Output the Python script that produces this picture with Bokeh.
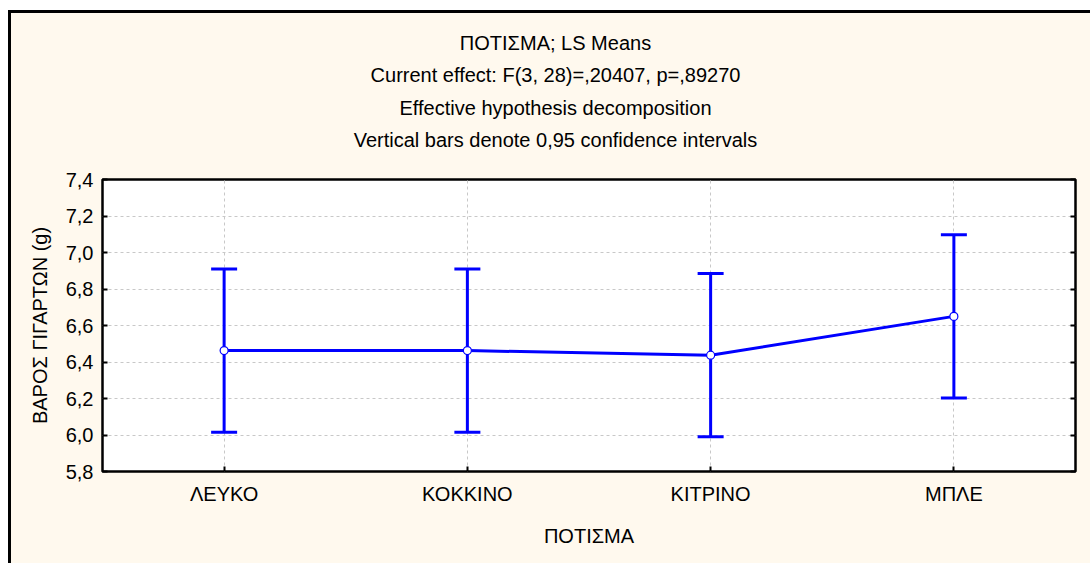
from bokeh.plotting import figure
from bokeh.layouts import column
from bokeh.models import (ColumnDataSource, Whisker, TeeHead, FixedTicker, LinearAxis,
                          Label, Range1d, FactorRange)
from bokeh.embed import file_html
from bokeh.resources import INLINE

# ---- data ----
categories = ["ΛΕΥΚΟ", "ΚΟΚΚΙΝΟ", "ΚΙΤΡΙΝΟ", "ΜΠΛΕ"]
means = [6.4625, 6.4625, 6.4375, 6.65]
lower = [6.015, 6.015, 5.99, 6.2025]
upper = [6.91, 6.91, 6.885, 7.0975]
y_ticks = [5.8, 6.0, 6.2, 6.4, 6.6, 6.8, 7.0, 7.2, 7.4]
y_tick_labels = ["5,8", "6,0", "6,2", "6,4", "6,6", "6,8", "7,0", "7,2", "7,4"]
title_lines = ["ΠΟΤΙΣΜΑ; LS Means",
               "Current effect: F(3, 28)=,20407, p=,89270",
               "Effective hypothesis decomposition",
               "Vertical bars denote 0,95 confidence intervals"]
x_title = "ΠΟΤΙΣΜΑ"
y_title = "ΒΑΡΟΣ ΓΙΓΑΡΤΩΝ (g)"

FONT = "Liberation Sans"
FS = "20px"
BLUE = "#0000ff"
CREAM = "#fff9ee"

W = 1079
FRAME_W = 973
TITLE_H = 150
Y0, Y1 = 5.8, 7.4

# ---- title block (a bare figure holding the four title lines) ----
t = figure(width=W, frame_width=FRAME_W, height=TITLE_H,
           x_range=Range1d(0, FRAME_W), y_range=Range1d(0, TITLE_H),
           min_border_left=91, min_border_right=15, min_border_top=0, min_border_bottom=0,
           output_backend="svg", toolbar_location=None,
           background_fill_color=CREAM, border_fill_color=CREAM)
t.outline_line_color = None
t.axis.visible = False
t.grid.visible = False
for i, line in enumerate(title_lines):
    t.add_layout(Label(x=453, y=TITLE_H - 29 - 32.5 * i, text=line,
                       text_align="center", text_baseline="middle",
                       text_font=FONT, text_font_size=FS, text_color="black"))

# ---- main plot ----
p = figure(x_range=FactorRange(*categories), y_range=Range1d(Y0, Y1),
           width=W, frame_width=FRAME_W, frame_height=292,
           min_border_left=91, min_border_top=16, min_border_right=15, min_border_bottom=92,
           output_backend="svg", toolbar_location=None,
           background_fill_color="white", border_fill_color=CREAM)

p.outline_line_color = "black"
p.outline_line_width = 2.5

p.yaxis.ticker = FixedTicker(ticks=y_ticks)
p.yaxis.major_label_overrides = {tk: lb for tk, lb in zip(y_ticks, y_tick_labels)}

for ax in p.xaxis + p.yaxis:
    ax.axis_line_color = None
    ax.major_tick_in = 5
    ax.major_tick_out = 0
    ax.major_tick_line_width = 2
    ax.major_tick_line_color = "black"
    ax.minor_tick_line_color = None
    ax.major_label_text_font = FONT
    ax.major_label_text_font_size = FS
    ax.major_label_text_color = "black"
    ax.axis_label_text_font = FONT
    ax.axis_label_text_font_size = FS
    ax.axis_label_text_font_style = "normal"
    ax.axis_label_text_color = "black"

p.yaxis.major_label_standoff = 9
p.yaxis.axis_label = y_title
p.yaxis.axis_label_standoff = 12
p.xaxis.major_label_standoff = 11
p.xaxis.axis_label = x_title
p.xaxis.axis_label_standoff = 17

right = LinearAxis(ticker=FixedTicker(ticks=y_ticks), axis_line_color=None,
                   major_tick_in=5, major_tick_out=0, major_tick_line_width=2,
                   minor_tick_line_color=None,
                   major_label_overrides={tk: "" for tk in y_ticks},
                   major_label_standoff=0)
p.add_layout(right, "right")

p.xgrid.grid_line_color = "#c8c8c8"
p.xgrid.grid_line_dash = "3 3"
p.ygrid.grid_line_color = "#c8c8c8"
p.ygrid.grid_line_dash = "3 3"

src = ColumnDataSource(dict(cat=categories, mean=means, lower=lower, upper=upper))
w = Whisker(base="cat", upper="upper", lower="lower", source=src,
            line_color=BLUE, line_width=3,
            upper_head=TeeHead(size=26, line_color=BLUE, line_width=3),
            lower_head=TeeHead(size=26, line_color=BLUE, line_width=3))
p.add_layout(w)
p.line("cat", "mean", source=src, line_color=BLUE, line_width=3)
p.scatter("cat", "mean", source=src, size=8, fill_color="white",
          line_color=BLUE, line_width=1.2)

layout = column(t, p, spacing=0)
layout.styles = {"border-left": "3px solid black", "border-top": "3px solid black",
                 "margin-left": "8px", "margin-top": "10px", "background": CREAM}

open("out.html", "w").write(file_html(layout, INLINE))
